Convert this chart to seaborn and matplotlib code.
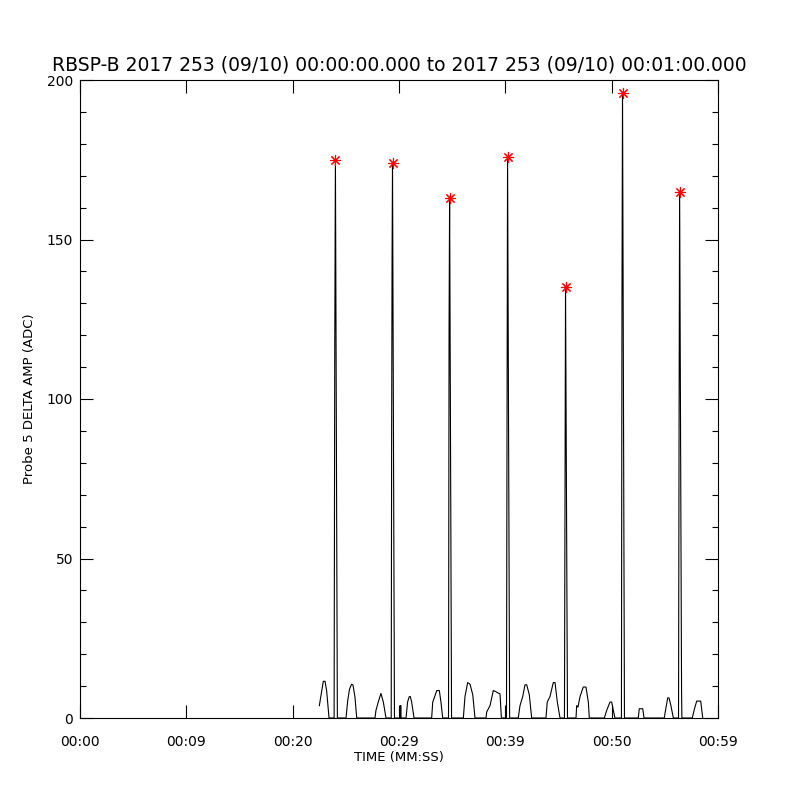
import numpy as np
import pandas as pd
import matplotlib
matplotlib.use("Agg")
import matplotlib.pyplot as plt
import seaborn as sns
from matplotlib.ticker import MultipleLocator, FixedLocator

# ---- data (time in seconds, amplitude in ADC) ----
time_s = [
    22.13, 22.33, 22.50, 22.66, 22.81, 23.03,
    23.50, 23.56, 23.62, 23.80,
    24.60, 24.76, 24.92, 25.11, 25.25, 25.43, 25.59,
    27.28, 27.37, 27.59, 27.83, 28.05, 28.30,
    28.78, 28.82, 28.86, 28.90, 29.08,
    29.62, 29.66, 29.69,
    30.15, 30.30, 30.45, 30.55, 30.67, 30.89,
    32.52, 32.62, 32.78, 32.99, 33.23, 33.38, 33.54,
    34.08, 34.13, 34.18, 34.36,
    35.45, 35.60, 35.85, 36.07, 36.32, 36.53,
    37.55, 37.61, 37.92, 38.22, 38.44, 38.68, 38.84, 38.97,
    39.44, 39.49, 39.54, 39.73,
    40.53, 40.69, 40.94, 41.15, 41.31, 41.55, 41.77,
    43.09, 43.21, 43.46, 43.77, 43.93, 44.14, 44.39,
    44.80, 44.85, 44.90, 45.08,
    45.87, 45.93, 46.05, 46.24, 46.54, 46.79, 47.01, 47.10,
    48.49, 48.71, 49.01, 49.17, 49.32, 49.47,
    50.07, 50.12, 50.17, 50.35,
    51.63, 51.72, 52.04, 52.16,
    54.03, 54.16, 54.35, 54.47, 54.65, 54.87,
    55.35, 55.40, 55.45, 55.63, 55.66,
    56.62, 56.81, 57.03, 57.40, 57.59,
]
amp_adc = [
    3.8, 8.0, 11.5, 11.5, 8.5, 0.0,
    0.0, 117.0, 175.0, 0.0,
    0.0, 5.5, 9.0, 10.6, 10.3, 6.5, 0.0,
    0.0, 2.4, 5.1, 7.7, 5.0, 0.0,
    0.0, 89.0, 145.0, 174.0, 0.0,
    0.0, 3.9, 0.0,
    0.0, 5.1, 6.7, 6.7, 5.0, 0.0,
    0.0, 5.0, 6.5, 8.6, 8.6, 5.0, 0.0,
    0.0, 122.0, 163.0, 0.0,
    0.0, 6.7, 11.1, 10.6, 7.3, 0.0,
    0.0, 1.9, 3.9, 8.6, 8.3, 7.8, 7.6, 0.0,
    0.0, 92.6, 176.0, 0.0,
    0.0, 3.9, 6.7, 10.4, 10.4, 7.3, 0.0,
    0.0, 5.0, 6.7, 11.1, 11.1, 5.0, 0.0,
    0.0, 66.0, 135.0, 0.0,
    0.0, 3.9, 3.4, 6.7, 9.7, 9.7, 5.0, 0.0,
    0.0, 2.4, 5.0, 5.0, 2.4, 0.0,
    0.0, 131.0, 196.0, 0.0,
    0.0, 2.9, 2.9, 0.0,
    0.0, 2.7, 6.3, 6.3, 3.8, 0.0,
    0.0, 91.0, 165.0, 8.8, 0.0,
    0.0, 2.7, 5.3, 5.3, 0.0,
]

peak_times = [23.62, 28.90, 34.18, 39.54, 44.90, 50.17, 55.45]
peak_values = [175.0, 174.0, 163.0, 176.0, 135.0, 196.0, 165.0]

x_tick_labels = ["00:00", "00:09", "00:20", "00:29", "00:39", "00:50", "00:59"]
title_text = "RBSP-B 2017 253 (09/10) 00:00:00.000 to 2017 253 (09/10) 00:01:00.000"

# ---- plot ----
sns.set_theme(style="ticks")
plt.rcParams["font.family"] = ["DejaVu Sans"]

df = pd.DataFrame({"t": time_s, "amp": amp_adc})
pk = pd.DataFrame({"t": peak_times, "amp": peak_values})

fig = plt.figure(figsize=(8, 8), dpi=100)
fig.patch.set_facecolor("white")
ax = fig.add_axes([0.1, 0.1025, 0.7975, 0.7975])
ax.set_facecolor("white")

sns.lineplot(data=df, x="t", y="amp", sort=False, estimator=None,
             color="black", linewidth=0.8, ax=ax)
ax.plot(pk["t"], pk["amp"], linestyle="none", marker=(8, 2, 0),
        markersize=8, markeredgewidth=0.8, color="red")

ax.set_xlim(0, 59)
ax.set_ylim(0, 200)
ax.xaxis.set_major_locator(FixedLocator(np.linspace(0, 59, 7)))
ax.set_xticklabels(x_tick_labels)
ax.yaxis.set_major_locator(MultipleLocator(50))
ax.yaxis.set_minor_locator(MultipleLocator(10))

ax.tick_params(axis="both", which="major", direction="in", length=9.5,
               width=0.8, color="black", labelsize=10, top=True, right=True,
               labelcolor="black")
ax.tick_params(axis="y", which="minor", direction="in", length=4.5,
               width=0.8, color="black", left=True, right=True)
ax.tick_params(axis="x", which="major", pad=12)
ax.tick_params(axis="y", which="major", pad=5)

for s in ax.spines.values():
    s.set_visible(True)
    s.set_color("black")
    s.set_linewidth(0.8)

ax.set_xlabel("TIME (MM:SS)", fontsize=9.5, color="black", labelpad=2)
ax.set_ylabel("Probe 5 DELTA AMP (ADC)", fontsize=9.5, color="black", labelpad=8)
ax.set_title(title_text, fontsize=13.5, color="black", pad=7)

fig.savefig("out.png", dpi=100, facecolor="white")
